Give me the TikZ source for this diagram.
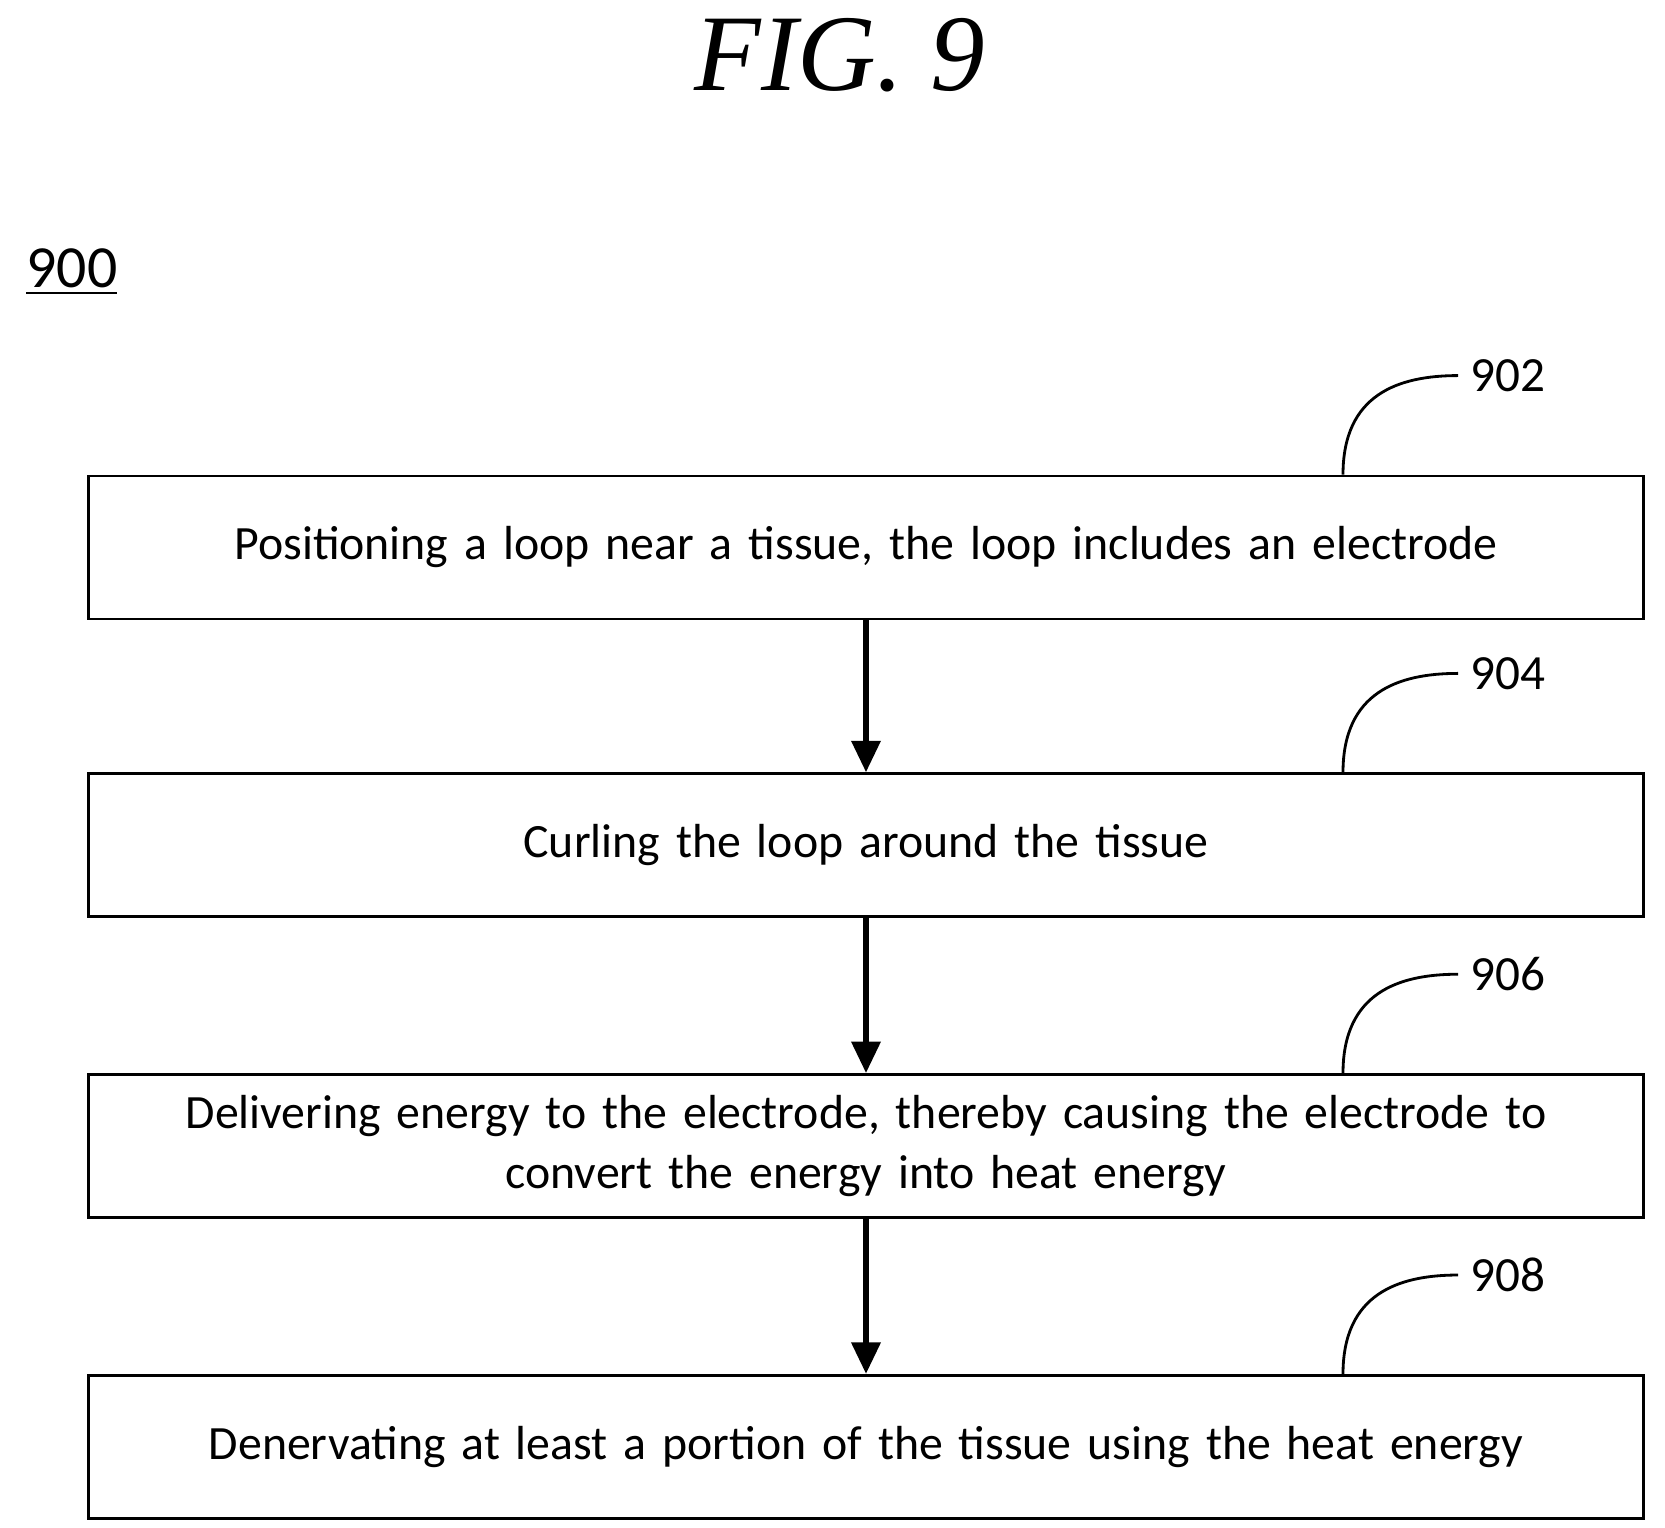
\documentclass[tikz,border=0pt]{standalone}
\usepackage{fontspec}
\setmainfont{Carlito}
\newfontfamily\figfont{Liberation Serif}
\usetikzlibrary{positioning,arrows.meta}
\tikzset{
  stepbox/.style = {draw, line width=0.8pt, minimum width=15.55cm, minimum height=1.43cm, text width=14.3cm, align=center, font=\fontsize{13.6}{17}\selectfont, inner sep=0pt},
  flow/.style = {-{Triangle[length=9pt,width=8pt]}, line width=1.8pt},
  lead/.style = {line width=0.8pt},
  ref/.style = {font=\fontsize{14}{17}\selectfont, anchor=west}
}
\begin{document}
\begin{tikzpicture}
\useasboundingbox (0,0) rectangle (16.65,-15.28);
\node (title) at (8.40,-0.55) {\figfont\itshape\fontsize{31}{36}\selectfont FIG. 9};
\node[anchor=west, font=\fontsize{17}{20}\selectfont] (fig) at (0.14,-2.72) {\underline{900}};

\node[stepbox] (s902) at (8.66,-5.475) {Positioning a loop near a tissue, the loop includes an electrode};
\node[stepbox, below=1.52cm of s902] (s904) {Curling the loop around the tissue};
\node[stepbox, below=1.55cm of s904] (s906) {Delivering energy to the electrode, thereby causing the electrode to\\ convert the energy into heat energy};
\node[stepbox, below=1.55cm of s906] (s908) {Denervating at least a portion of the tissue using the heat energy};

\draw[flow] (s902) -- (s904);
\draw[flow] (s904) -- (s906);
\draw[flow] (s906) -- (s908);

% reference numerals
\foreach \b in {902,904,906,908}{
  \coordinate (c\b) at ([xshift=4.77cm]s\b.north);
  \node[ref] (r\b) at ([xshift=1.15cm,yshift=0.99cm]c\b) {\b};
  \draw[lead] (c\b) .. controls ([yshift=0.8cm]c\b) and ([xshift=-0.6cm]r\b.west) .. (r\b.west);
}
\end{tikzpicture}
\end{document}
